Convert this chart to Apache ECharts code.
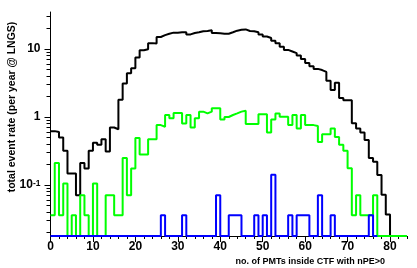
<!DOCTYPE html>
<html><head><meta charset="utf-8">
<script src="https://cdn.jsdelivr.net/npm/echarts@6/dist/echarts.min.js"></script>
<style>html,body{margin:0;padding:0;background:#fff}#c{width:417px;height:268px}</style>
</head><body><div id="c"></div>
<script>
// histogram bins of width 1 starting at 0 (no. of PMTs)
const blackRate = [0.62,0.60,0.50,0.32,0.148,0.148,0.071,0.21,0.175,0.32,
  0.42,0.39,0.47,0.31,0.70,0.66,1.8,3.1,4.4,5.2,
  7.5,9.6,9.9,12.2,12.0,15,16,16.8,17.4,17.4,
  17.7,17.7,16.4,17.2,17.6,18.2,18.4,18.8,17.2,17.0,
  16.8,16.8,17.6,18.6,19.2,19.4,18.4,18.2,17.6,16.4,
  15.3,14.5,13.2,12.2,10.8,9.7,9.2,8.7,8.0,7.1,
  6.2,5.6,5.1,4.9,4.6,3.4,2.5,3.2,1.9,1.77,
  1.77,0.81,0.68,0.59,0.46,0.25,0.22,0.14,0.072,0.037,
  0,0,0,0];
const greenRate = [0.036,0.21,0.036,0.105,0,0.036,0,0.071,0.036,0,
  0.105,0,0,0.071,0.071,0.036,0.036,0.25,0.071,0.175,
  0.49,0.28,0.28,0.47,0.47,0.76,0.72,1.07,0.96,1.15,
  1.15,0.8,1.07,0.7,0.96,1.2,1.13,1.2,1.34,1.34,
  0.92,1.0,1.07,1.13,1.2,1.24,0.79,0.79,0.79,1.1,
  1.1,0.59,0.92,1.13,1.01,1.01,0.76,1.07,0.68,1.07,
  0.76,0.76,0.74,0.43,0.56,0.56,0.68,0.51,0.39,0.32,
  0.177,0.036,0.071,0.036,0.036,0.036,0.071,0,0,0,
  0,0,0,0];
const blueRate = [0,0,0,0,0,0,0,0,0,0,
  0,0,0,0,0,0,0,0,0,0,
  0,0,0,0,0,0,0.036,0,0,0,
  0,0.036,0,0,0,0,0,0,0,0.071,
  0,0,0.036,0.036,0.036,0,0,0,0.036,0,
  0.036,0,0.142,0,0,0,0.036,0,0.036,0.036,
  0.036,0,0,0.071,0,0,0.036,0,0,0,
  0,0,0,0,0,0.036,0];
const xTickValues = [0,10,20,30,40,50,60,70,80];
const xTickLabels = ['0','10','20','30','40','50','60','70','80'];
const yTickValues = [0.1,1,10];
const yTickLabels = ['{a|10}{s|-1}','1','10'];
const xTitle = 'no. of PMTs inside CTF with nPE>0';
const yTitle = 'total event rate (per year @ LNGS)';

const Y_MIN = 0.0178, Y_MAX = 35, X_MIN = 0, X_MAX = 84;
const FONT = '"Liberation Sans", Arial, Helvetica, sans-serif';

const xMinor = [];
for (let v = X_MIN; v <= X_MAX; v += 2) if (v % 10 !== 0) xMinor.push(v);
const yMinor = [];
[0.01, 0.1, 1, 10].forEach(d => { for (let k = 2; k <= 9; k++) { const v = +(d * k).toPrecision(3); if (v >= Y_MIN && v <= Y_MAX) yMinor.push(v); } });

function stepData(vals) {
  const f = v => (v > 0 ? v : Y_MIN);
  const pts = vals.map((v, i) => [i, f(v)]);
  const last = vals[vals.length - 1];
  pts.push([vals.length, f(last)]);
  if (last > 0) pts.push([vals.length, Y_MIN]);
  return pts;
}
function ser(vals, color) {
  return { type: 'line', step: 'end', data: stepData(vals), symbol: 'none', showSymbol: false,
    clip: false, silent: true, animation: false, xAxisIndex: 0, yAxisIndex: 0,
    itemStyle: { color }, lineStyle: { color, width: 2 } };
}

const chart = echarts.init(document.getElementById('c'), null, { renderer: 'canvas' });
const lineSt = { color: '#000', width: 1 };
chart.setOption({
  animation: false,
  backgroundColor: '#fff',
  grid: { left: 50.5, right: 10, top: 12, bottom: 32, containLabel: false, outerBoundsMode: 'none' },
  xAxis: [
    { type: 'value', min: X_MIN, max: X_MAX, position: 'bottom',
      axisLine: { show: true, lineStyle: lineSt },
      axisTick: { show: true, customValues: xTickValues, length: 6, lineStyle: lineSt },
      axisLabel: { show: true, customValues: xTickValues, margin: 5, color: '#000', fontSize: 12, fontWeight: 'bold', fontFamily: FONT,
        formatter: v => { const i = xTickValues.indexOf(v); return i >= 0 ? xTickLabels[i] : ''; } },
      splitLine: { show: false } },
    { type: 'value', min: X_MIN, max: X_MAX, position: 'bottom',
      axisLine: { show: false },
      axisTick: { show: true, customValues: xMinor, length: 3, lineStyle: lineSt },
      axisLabel: { show: false }, splitLine: { show: false } }
  ],
  yAxis: [
    { type: 'log', logBase: 10, min: Y_MIN, max: Y_MAX, position: 'left',
      axisLine: { show: true, lineStyle: lineSt },
      axisTick: { show: true, customValues: yMinor, length: 4, lineStyle: lineSt },
      axisLabel: { show: false }, splitLine: { show: false } },
    { type: 'log', logBase: 10, min: Y_MIN, max: Y_MAX, position: 'left',
      axisLine: { show: false },
      axisTick: { show: true, customValues: yTickValues, length: 6, lineStyle: lineSt },
      axisLabel: { show: true, customValues: yTickValues, margin: 10, color: '#000', fontSize: 12, fontWeight: 'bold', fontFamily: FONT,
        formatter: v => { for (let i = 0; i < yTickValues.length; i++) if (Math.abs(v / yTickValues[i] - 1) < 1e-6) return yTickLabels[i]; return ''; },
        rich: { a: { fontSize: 12, fontWeight: 'bold', fontFamily: FONT, color: '#000' },
                s: { fontSize: 8.5, fontWeight: 'bold', fontFamily: FONT, color: '#000', verticalAlign: 'top' } } },
      splitLine: { show: false } }
  ],
  series: [ ser(blackRate, '#000000'), ser(greenRate, '#00ff00'), ser(blueRate, '#0000ff') ],
  graphic: [
    { type: 'text', x: 12, y: 107, rotation: Math.PI / 2, silent: true,
      style: { text: yTitle, font: 'bold 10.5px ' + FONT, fill: '#000', textAlign: 'center', textVerticalAlign: 'middle', align: 'center', verticalAlign: 'middle' } },
    { type: 'text', x: 385, y: 262, silent: true,
      style: { text: xTitle, font: 'bold 9px ' + FONT, fill: '#000', textAlign: 'right', textVerticalAlign: 'middle', align: 'right', verticalAlign: 'middle' } }
  ]
});
</script></body></html>
